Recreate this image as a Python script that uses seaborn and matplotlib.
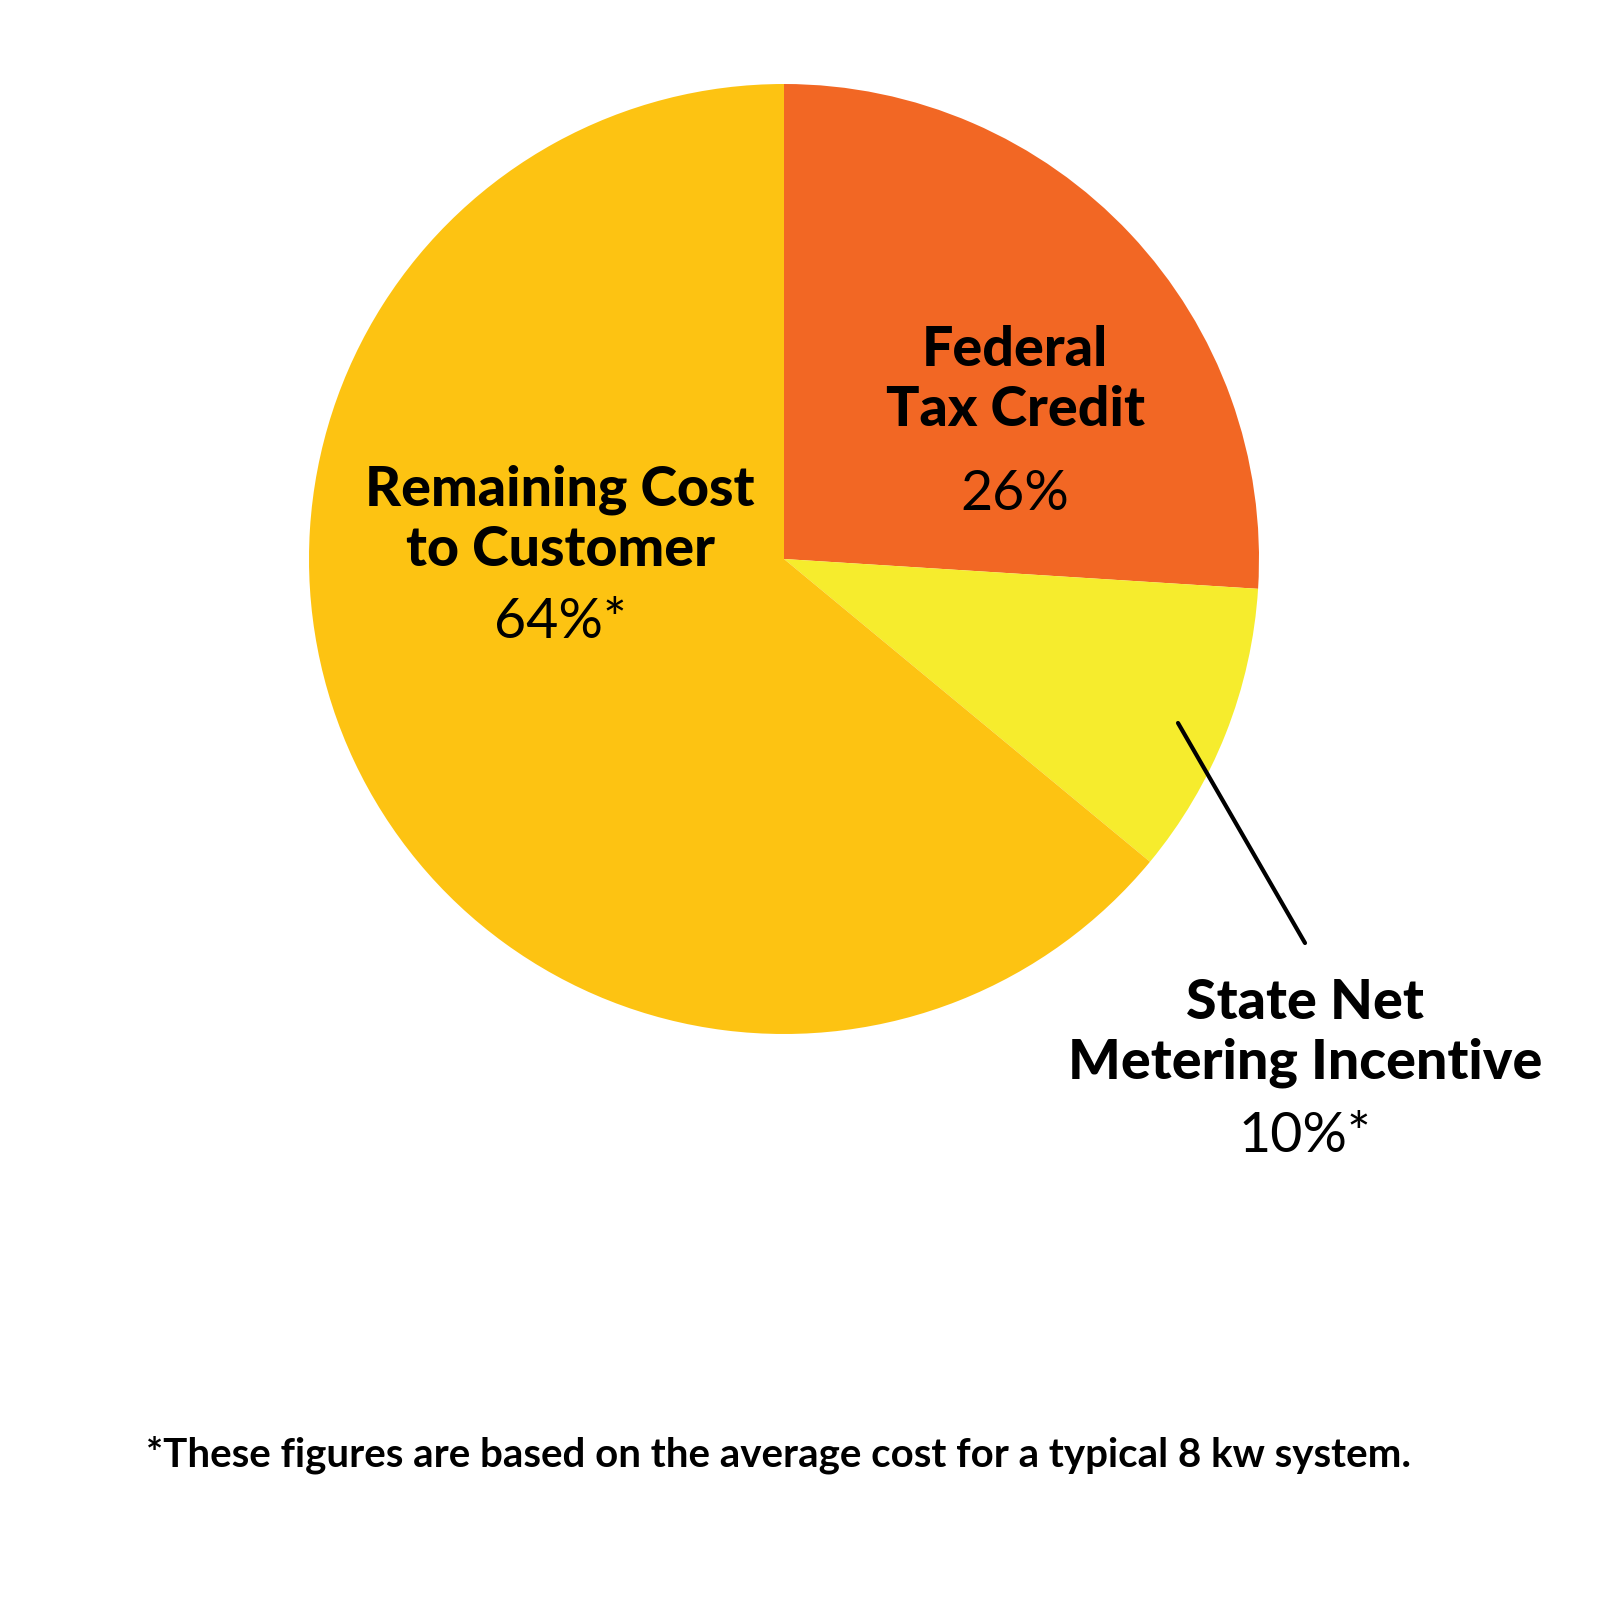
import matplotlib
matplotlib.use("Agg")
import matplotlib.pyplot as plt
import seaborn as sns
from matplotlib.lines import Line2D

labels = ["Federal\nTax Credit", "State Net\nMetering Incentive", "Remaining Cost\nto Customer"]
pct_labels = ["26%", "10%*", "64%*"]
values = [26, 10, 64]
colors = ["#F26724", "#F6EC2D", "#FDC312"]
footnote = "*These figures are based on the average cost for a typical 8 kw system."

sns.set_theme(style="white")
plt.rcParams['font.family'] = ['Lato', 'DejaVu Sans']

W = 1600
fig = plt.figure(figsize=(16, 16), dpi=100)
cx, cy, r = 784, 559, 475
ax = fig.add_axes([(cx - r) / W, (W - cy - r) / W, 2 * r / W, 2 * r / W])
ax.pie(values, colors=colors, startangle=90, counterclock=False, radius=1,
       wedgeprops=dict(linewidth=0))
ax.set_xlim(-1, 1); ax.set_ylim(-1, 1); ax.set_aspect('equal'); ax.axis('off')

def ft(x, y, s, **kw):
    fig.text(x / W, 1 - y / W, s, ha='center', va='center', color='black', **kw)

pos = [(1015, 380, 495), (1305, 1033, 1137), (560, 520, 623)]
for (x, yl, yp), lab, p in zip(pos, labels, pct_labels):
    ft(x, yl, lab, fontsize=40, fontweight='black', linespacing=1.25)
    ft(x, yp, p, fontsize=40)

fig.add_artist(Line2D([1178 / W, 1305 / W], [1 - 723 / W, 1 - 943 / W],
                      color='black', linewidth=3, transform=fig.transFigure))
ft(778, 1455, footnote, fontsize=29, fontweight='bold')

fig.savefig("out.png", dpi=100)
